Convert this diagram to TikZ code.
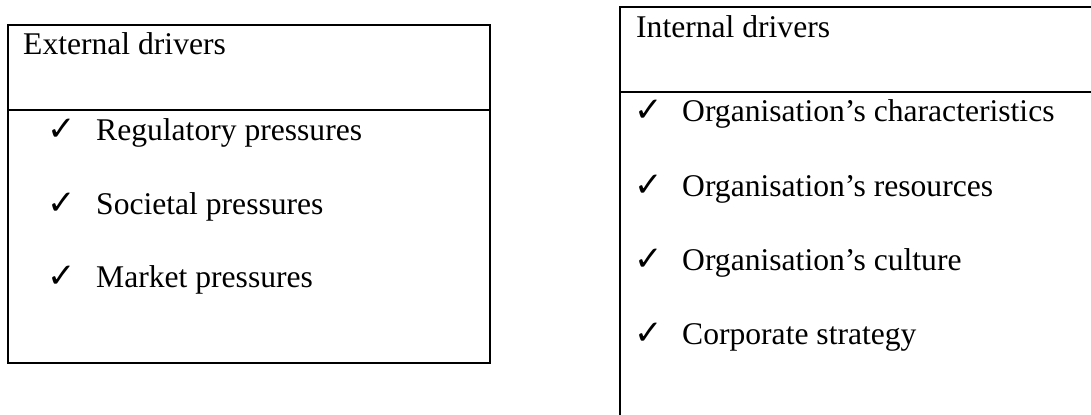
\documentclass[tikz,border=0pt]{standalone}
\usepackage{fontspec}
\setmainfont{Liberation Serif}
\newfontfamily\ticksymfont{DejaVu Sans}

\begin{document}
\begin{tikzpicture}[x=0.5pt,y=-0.5pt,line width=1.2pt,
                    txt/.style={anchor=base west,inner sep=0pt,font=\fontsize{15.8}{19}\selectfont},
                    tickmk/.style={anchor=base west,inner sep=0pt,font=\ticksymfont\fontsize{17}{18}\selectfont}]
                    \useasboundingbox(0,0)rectangle(1091,415);
                    \clip(0,0)rectangle(1091,415);
                    \coordinate(E1)at(8,25);
                    \coordinate(E2)at(490,363);
                    \coordinate(E3)at(8,110);
                    \coordinate(E4)at(490,110);
                    \coordinate(I1)at(620,7);
                    \coordinate(I2)at(1130,450);
                    \coordinate(I3)at(620,92);
                    \coordinate(I4)at(1130,92);
                    \draw(E1)rectangle(E2);
                    \draw(E3)--(E4);
                    \draw(I1)rectangle(I2);
                    \draw(I3)--(I4);
                    \node[txt](ext)at(22,55){External drivers};
                    \node[txt](int)at(635,38){Internal drivers};
                    \foreach \y/\t [count=\i] in {141/Regulatory pressures,215/Societal pressures,288/Market pressures}{
                        \node[tickmk](ec\i)at(46,\y){✓};
                        \node[txt](e\i)at(95,\y){\t};
                    }
                    \foreach \y/\t [count=\i] in {122/Organisation’s characteristics,197/Organisation’s resources,271/Organisation’s culture,345/Corporate strategy}{
                        \node[tickmk](ic\i)at(633,\y){✓};
                        \node[txt](i\i)at(681,\y){\t};
                    }
                \end{tikzpicture}
\end{document}
